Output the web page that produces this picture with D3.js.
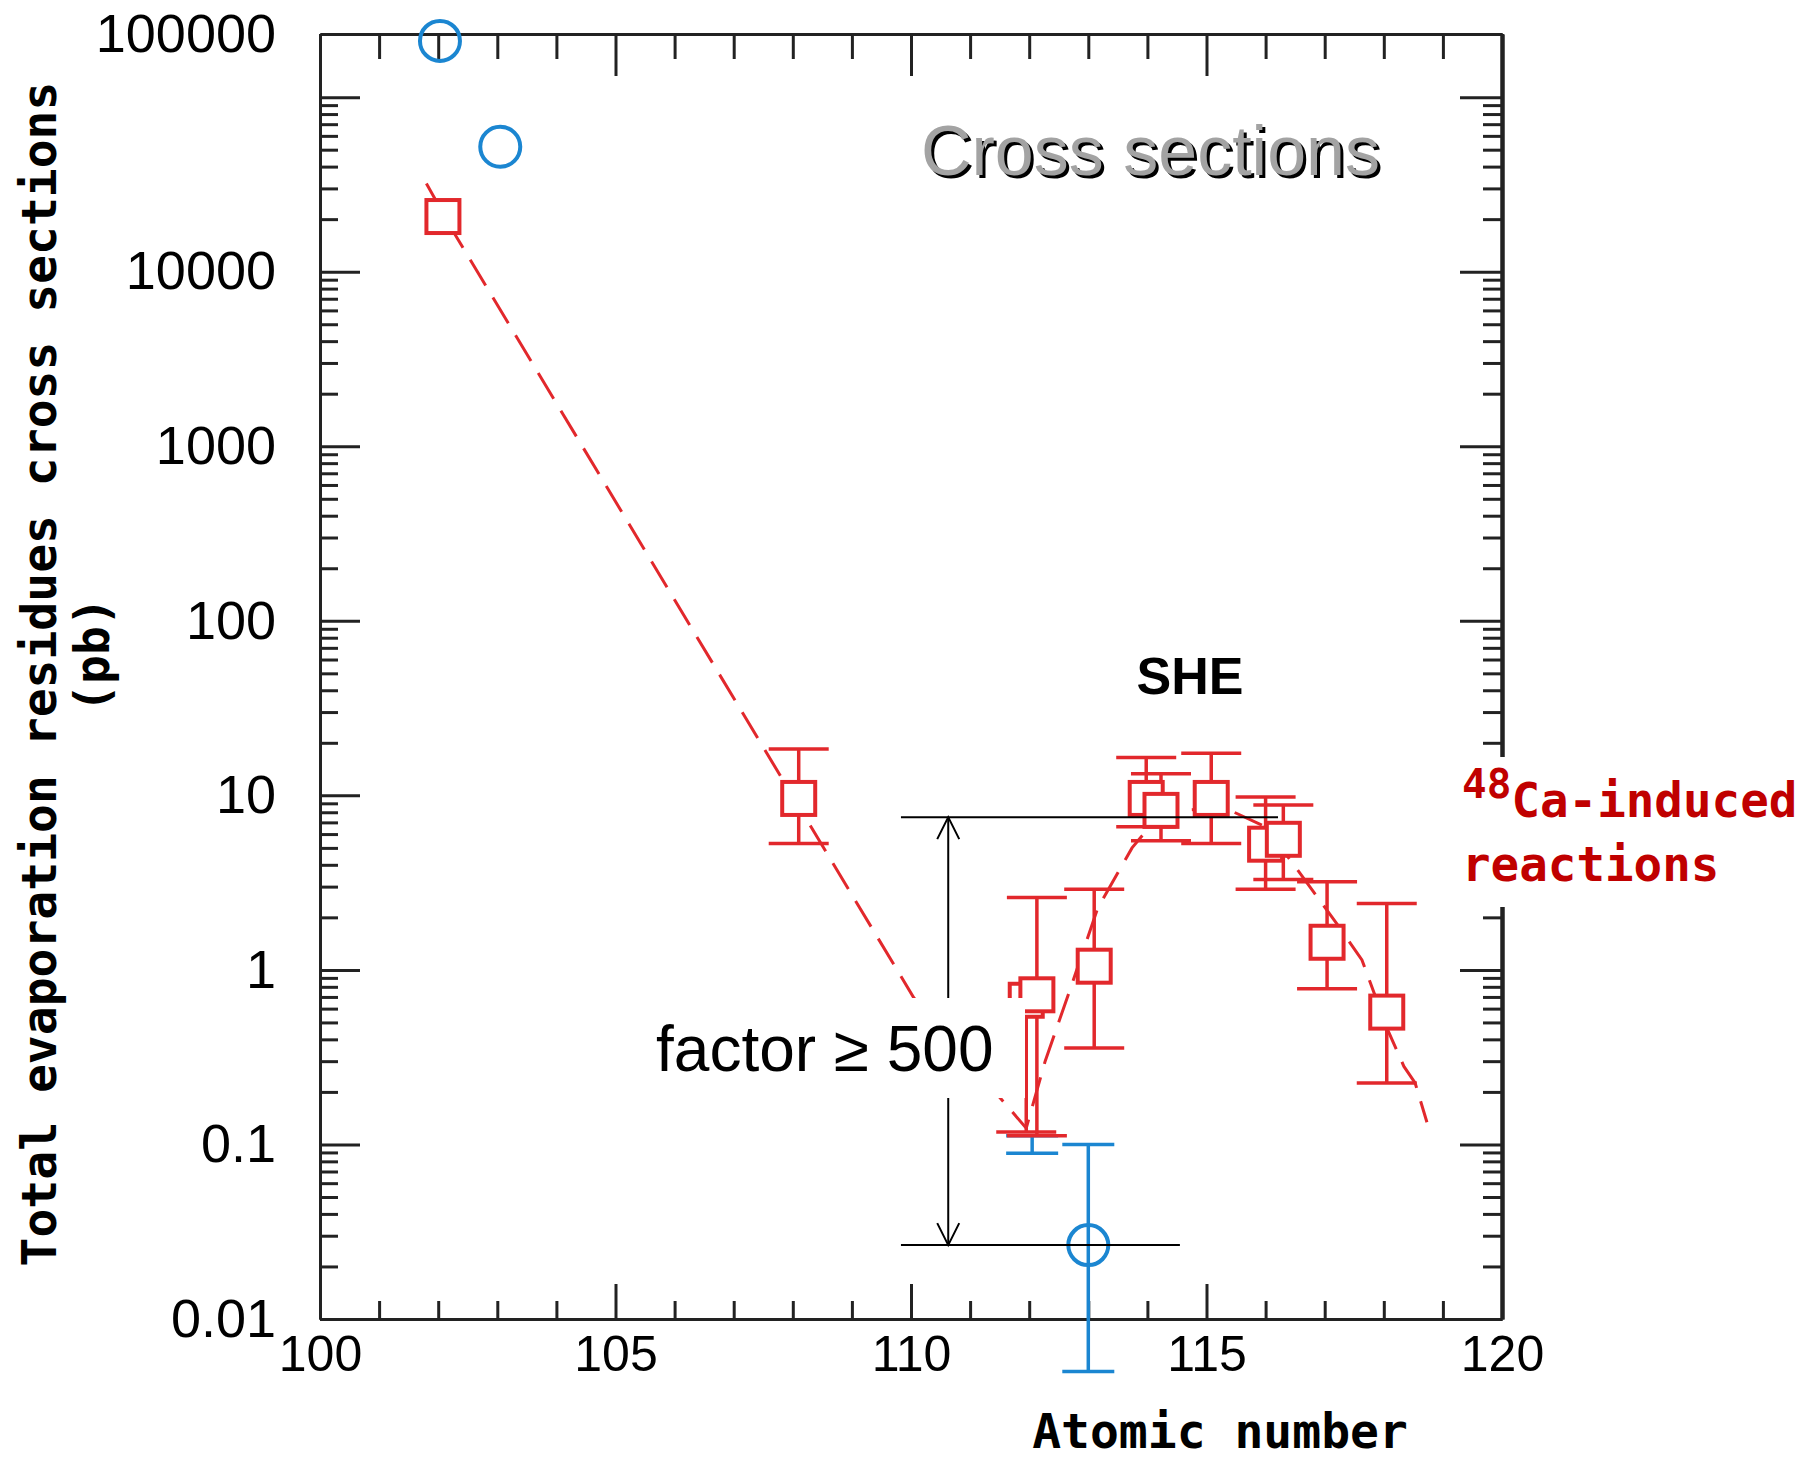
<!DOCTYPE html>
<html>
<head>
<meta charset="utf-8">
<script src="https://cdn.jsdelivr.net/npm/d3@7"></script>
<style>
  body { margin: 0; background: #fff; }
  svg { display: block; }
</style>
</head>
<body>
<div class="chart"></div>
<script>
// Evaporation residue cross sections vs atomic number

// red squares: 48Ca-induced reactions (sigma in pb, error limits)
var redZ     = [102.08, 108.1, 111.95, 112.13, 113.1, 113.98, 114.23, 115.08, 116.0, 116.3, 117.04, 118.05]
var redSigma = [20700, 9.6, 0.67, 0.72, 1.05, 9.6, 8.2, 9.6, 5.25, 5.6, 1.44, 0.573]
var redLow   = [null, 5.3, 0.118, 0.112, 0.357, 6.6, 5.5, 5.3, 2.9, 3.3, 0.78, 0.225]
var redHigh  = [null, 18.4, null, 2.6, 2.9, 16.5, 13.3, 17.4, 9.8, 8.8, 3.2, 2.4]

// blue circles (the one at 112 has its marker covered, only the bar shows)
var blueZ     = [102.03, 103.05, 113.0, 112.05]
var blueSigma = [210000, 52000, 0.0265, null]
var blueLow   = [null, null, 0.005, 0.089]
var blueHigh  = [null, null, 0.1, 0.112]

// dashed red systematics line
var fitZ     = [101.8, 102.3, 110.05, 111.95, 112.27, 112.69, 113.16, 113.5, 113.74, 114.1, 114.6, 115.3, 116.0, 116.55, 117.25, 117.63, 118.07, 118.34, 118.53, 118.73]
var fitSigma = [32000, 16000, 0.69, 0.124, 0.30, 0.77, 2.26, 3.6, 5.0, 7.0, 8.2, 8.5, 6.6, 3.7, 1.75, 1.14, 0.45, 0.28, 0.225, 0.134]

// "factor >= 500" annotation
var factorTop = 7.5
var factorBottom = 0.0265
var factorTopZ = [109.83, 116.21]
var factorBottomZ = [109.83, 114.55]
var factorArrowZ = 110.63

// ticks
var xMajor = [100, 105, 110, 115, 120]
var xMinor = d3.range(101, 120).filter(d => d % 5 !== 0)
var yMajor = [0.01, 0.1, 1, 10, 100, 1000, 10000, 100000]
var yLabels = ['0.01', '0.1', '1', '10', '100', '1000', '10000', '100000']
var yMinor = []
yMajor.slice(0, -1).forEach(d => { for (var k = 2; k < 10; k++) yMinor.push(d * k) })

var red = '#e2282c'
var blue = '#1b86d1'
var axisColor = '#222'

var margin = { top: 34, right: 303, bottom: 144, left: 320 }
var width = 1805 - margin.left - margin.right
var height = 1463 - margin.top - margin.bottom

var svg = d3.select('.chart')
  .append('svg')
  .attr('width', 1805)
  .attr('height', 1463)

var g = svg.append('g')
  .attr('transform', 'translate(' + margin.left + ',' + margin.top + ')')

var x = d3.scaleLinear().domain([100, 120]).range([0, width])
var y = d3.scaleLog().domain([0.01, 2.3e5]).range([height, 0])

function styleAxis(sel) {
  sel.selectAll('.domain').attr('stroke', axisColor).attr('stroke-width', 3)
  sel.selectAll('.tick line').attr('stroke', axisColor).attr('stroke-width', 3)
  sel.selectAll('.tick text')
    .attr('fill', '#000')
    .style('font-family', '"Liberation Sans", Arial, sans-serif')
}

// bottom axis
var bottomAxis = g.append('g').attr('transform', 'translate(0,' + height + ')')
bottomAxis.call(d3.axisBottom(x).tickValues(xMinor).tickSize(-18).tickSizeOuter(0).tickFormat(''))
bottomAxis.append('g').call(d3.axisBottom(x).tickValues(xMajor).tickSize(-35).tickSizeOuter(0)
  .tickPadding(16).tickFormat(d3.format('d')))
styleAxis(bottomAxis)
bottomAxis.selectAll('.tick text').style('font-size', '50px')

// top axis
var topAxis = g.append('g')
topAxis.call(d3.axisTop(x).tickValues(xMinor).tickSize(-25).tickSizeOuter(0).tickFormat(''))
topAxis.append('g').call(d3.axisTop(x).tickValues(xMajor).tickSize(-42).tickSizeOuter(0).tickFormat(''))
styleAxis(topAxis)

// left axis
var leftAxis = g.append('g')
leftAxis.call(d3.axisLeft(y).tickValues(yMinor).tickSize(-18).tickSizeOuter(0).tickFormat(''))
leftAxis.append('g').call(d3.axisLeft(y).tickValues(yMajor).tickSize(-40).tickSizeOuter(0)
  .tickPadding(44).tickFormat((d, i) => yLabels[i]))
styleAxis(leftAxis)
leftAxis.selectAll('.tick text').style('font-size', '54px')
// the top label sits at the top of the frame
leftAxis.selectAll('.tick text').filter(d => d === 100000)
  .attr('transform', 'translate(0,' + (y.range()[1] - y(100000)) + ')')

// right axis
var rightAxis = g.append('g').attr('transform', 'translate(' + width + ',0)')
rightAxis.call(d3.axisRight(y).tickValues(yMinor).tickSize(-19).tickSizeOuter(0).tickFormat(''))
rightAxis.append('g').call(d3.axisRight(y).tickValues(yMajor).tickSize(-42).tickSizeOuter(0).tickFormat(''))
styleAxis(rightAxis)
rightAxis.selectAll('.domain').attr('stroke-width', 4)

// dashed systematics line
var fitData = fitZ.map((z, i) => ({ z: z, s: fitSigma[i] }))
g.append('path')
  .datum(fitData)
  .attr('fill', 'none')
  .attr('stroke', red)
  .attr('stroke-width', 3)
  .attr('stroke-dasharray', '30 14')
  .attr('d', d3.line().x(d => x(d.z)).y(d => y(d.s)))

function errorBars(data, color, capWidth) {
  var bars = g.append('g').attr('stroke', color).attr('stroke-width', 3.5)
  data.forEach(d => {
    var yTop = d.hi != null ? y(d.hi) : y(d.s)
    var yBot = d.lo != null ? y(d.lo) : y(d.s)
    if (d.hi == null && d.lo == null) return
    bars.append('line').attr('x1', x(d.z)).attr('x2', x(d.z)).attr('y1', yTop).attr('y2', yBot)
    if (d.hi != null) {
      bars.append('line').attr('x1', x(d.z) - capWidth / 2).attr('x2', x(d.z) + capWidth / 2)
        .attr('y1', yTop).attr('y2', yTop)
    }
    if (d.lo != null) {
      bars.append('line').attr('x1', x(d.z) - capWidth / 2).attr('x2', x(d.z) + capWidth / 2)
        .attr('y1', yBot).attr('y2', yBot)
    }
  })
}

// blue data
var blueData = blueZ.map((z, i) => ({ z: z, s: blueSigma[i], lo: blueLow[i], hi: blueHigh[i] }))
errorBars(blueData, blue, 52)
g.selectAll('circle.blue')
  .data(blueData.filter(d => d.s != null))
  .enter()
  .append('circle')
  .attr('class', 'blue')
  .attr('cx', d => x(d.z))
  .attr('cy', d => y(d.s))
  .attr('r', 20)
  .attr('fill', 'none')
  .attr('stroke', blue)
  .attr('stroke-width', 4)

// red data
var redData = redZ.map((z, i) => ({ z: z, s: redSigma[i], lo: redLow[i], hi: redHigh[i] }))
errorBars(redData, red, 60)
var sq = 33
g.selectAll('rect.red')
  .data(redData)
  .enter()
  .append('rect')
  .attr('class', 'red')
  .attr('x', d => x(d.z) - sq / 2)
  .attr('y', d => y(d.s) - sq / 2)
  .attr('width', sq)
  .attr('height', sq)
  .attr('fill', '#fff')
  .attr('stroke', red)
  .attr('stroke-width', 4)

// factor annotation
var ann = g.append('g').attr('stroke', '#000').attr('stroke-width', 2).attr('fill', 'none')
ann.append('line')
  .attr('x1', x(factorTopZ[0])).attr('x2', x(factorTopZ[1]))
  .attr('y1', y(factorTop)).attr('y2', y(factorTop))
ann.append('line')
  .attr('x1', x(factorBottomZ[0])).attr('x2', x(factorBottomZ[1]))
  .attr('y1', y(factorBottom)).attr('y2', y(factorBottom))
var ax = x(factorArrowZ)
ann.append('line')
  .attr('x1', ax).attr('x2', ax)
  .attr('y1', y(factorTop)).attr('y2', y(factorBottom))
ann.append('path')
  .attr('d', 'M' + (ax - 11) + ',' + (y(factorTop) + 22) + 'L' + ax + ',' + y(factorTop) + 'L' + (ax + 11) + ',' + (y(factorTop) + 22))
ann.append('path')
  .attr('d', 'M' + (ax - 11) + ',' + (y(factorBottom) - 22) + 'L' + ax + ',' + y(factorBottom) + 'L' + (ax + 11) + ',' + (y(factorBottom) - 22))

// text box behind "factor >= 500"
svg.append('rect')
  .attr('x', 640).attr('y', 998)
  .attr('width', 385).attr('height', 100)
  .attr('fill', '#fff')
svg.append('text')
  .attr('x', 656).attr('y', 1071)
  .style('font-family', '"Liberation Sans", Arial, sans-serif')
  .style('font-size', '64px')
  .text('factor \u2265 500')

// "Cross sections" with shadow
var title = svg.append('g')
  .style('font-family', '"Liberation Sans", Arial, sans-serif')
  .style('font-size', '70px')
title.append('text').attr('x', 924).attr('y', 178).attr('fill', '#000').text('Cross sections')
title.append('text').attr('x', 921).attr('y', 175).attr('fill', '#a3a3a3').text('Cross sections')

// SHE
svg.append('text')
  .attr('x', 1190).attr('y', 694)
  .attr('text-anchor', 'middle')
  .style('font-family', '"Liberation Sans", Arial, sans-serif')
  .style('font-weight', 'bold')
  .style('font-size', '52px')
  .text('SHE')

// 48Ca-induced reactions label
svg.append('rect')
  .attr('x', 1455).attr('y', 757)
  .attr('width', 350).attr('height', 150)
  .attr('fill', '#fff')
var caLabel = svg.append('text')
  .attr('x', 1462).attr('y', 817)
  .attr('fill', '#c00000')
  .style('font-family', '"DejaVu Sans Mono", monospace')
  .style('font-weight', 'bold')
  .style('font-size', '47.5px')
caLabel.append('tspan').attr('dy', -19).style('font-size', '41px').text('48')
caLabel.append('tspan').attr('dy', 19).text('Ca-induced')
svg.append('text')
  .attr('x', 1462).attr('y', 881)
  .attr('fill', '#c00000')
  .style('font-family', '"DejaVu Sans Mono", monospace')
  .style('font-weight', 'bold')
  .style('font-size', '47.5px')
  .text('reactions')

// axis titles
var mono = svg.append('g')
  .style('font-family', '"DejaVu Sans Mono", monospace')
  .style('font-weight', 'bold')
  .style('font-size', '48px')
  .attr('fill', '#000')
mono.append('text')
  .attr('text-anchor', 'middle')
  .attr('transform', 'translate(56,674) rotate(-90)')
  .text('Total evaporation residues cross sections')
mono.append('text')
  .attr('text-anchor', 'middle')
  .attr('transform', 'translate(109,655) rotate(-90)')
  .text('(pb)')
mono.append('text')
  .attr('text-anchor', 'middle')
  .attr('x', 1220).attr('y', 1448)
  .text('Atomic number')
</script>
</body>
</html>
